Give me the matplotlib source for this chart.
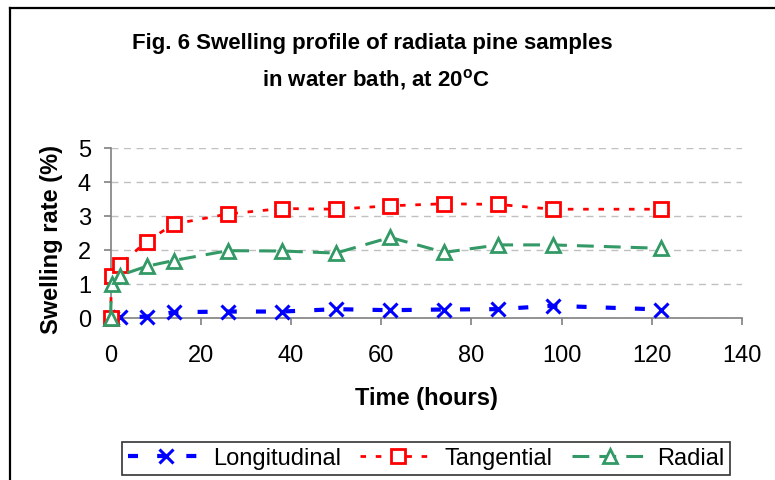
import matplotlib
matplotlib.use("Agg")
import matplotlib.pyplot as plt
from matplotlib.lines import Line2D

plt.rcParams['font.family'] = ['Liberation Sans', 'DejaVu Sans']
plt.rcParams['mathtext.fontset'] = 'custom'
plt.rcParams['mathtext.rm'] = 'Liberation Sans'
plt.rcParams['mathtext.bf'] = 'Liberation Sans:bold'

time_h = [0, 0.25, 2, 8, 14, 26, 38, 50, 62, 74, 86, 98, 122]
longitudinal = [0, 0.0, 0.02, 0.04, 0.17, 0.19, 0.19, 0.26, 0.23, 0.25, 0.26, 0.36, 0.25]
tangential = [0, 1.25, 1.56, 2.25, 2.76, 3.06, 3.22, 3.2, 3.3, 3.36, 3.34, 3.2, 3.2]
radial = [0, 1.0, 1.25, 1.52, 1.69, 1.98, 1.97, 1.91, 2.37, 1.93, 2.15, 2.15, 2.05]
series_names = ["Longitudinal", "Tangential", "Radial"]
x_ticks = [0, 20, 40, 60, 80, 100, 120, 140]
y_ticks = [0, 1, 2, 3, 4, 5]

W, H = 775, 481
fig = plt.figure(figsize=(W / 100, H / 100), dpi=100)
ax = fig.add_axes([110.5 / W, 1 - 319 / H, (742 - 110.5) / W, (319 - 149) / H])

blue, red, green = '#0000FF', '#FF0000', '#339966'
ax.plot(time_h, longitudinal, color=blue, lw=3, dashes=(2.4, 4.6), marker='x',
        ms=10, mew=2.2, label=series_names[0], zorder=3, clip_on=False)
ax.plot(time_h, tangential, color=red, lw=2, dashes=(2, 3.5), marker='s',
        ms=10, mew=2, mfc='white', mec=red, label=series_names[1], zorder=3,
        clip_on=False)
ax.plot(time_h, radial, color=green, lw=2.2, dashes=(5.5, 3.3), marker='^',
        ms=10, mew=2, mfc='white', mec=green, label=series_names[2], zorder=3,
        clip_on=False)

ax.set_xlim(0, 140)
ax.set_ylim(0, 5)
ax.set_xticks(x_ticks)
ax.set_yticks(y_ticks)
ax.yaxis.grid(True, color='#C0C0C0', linestyle=(0, (5, 4)), lw=1)
ax.set_axisbelow(True)
for s in ['top', 'right']:
    ax.spines[s].set_visible(False)
for s in ['left', 'bottom']:
    ax.spines[s].set_color('#808080')
    ax.spines[s].set_linewidth(1.2)
ax.tick_params(axis='both', direction='out', length=5, width=1.2, color='#808080',
               labelsize=17, labelcolor='black')
ax.tick_params(axis='x', pad=14)
ax.tick_params(axis='y', pad=9)

fig.text(52 / W, 1 - 240 / H, "Swelling rate (%)", rotation=90, fontsize=17,
         fontweight='bold', ha='center', va='center')
fig.text(426 / W, 1 - 399 / H, "Time (hours)", fontsize=17, fontweight='bold',
         ha='center', va='center')
fig.text(372 / W, 1 - 43 / H, "Fig. 6 Swelling profile of radiata pine samples",
         fontsize=16, fontweight='bold', ha='center', va='center')
fig.text(376 / W, 1 - 80 / H, r"in water bath, at 20$^{\mathbf{o}}$C",
         fontsize=16, fontweight='bold', ha='center', va='center')

leg = fig.legend(loc='center', bbox_to_anchor=(426 / W, 1 - 459.5 / H), ncol=3,
                 fontsize=17, frameon=True, fancybox=False, edgecolor='black',
                 handlelength=3.2, columnspacing=0.8, handletextpad=0.4,
                 borderpad=0.25)
leg.get_frame().set_linewidth(1.2)

# outer chart-area border (cropped on right/bottom)
fig.add_artist(Line2D([10 / W, 10 / W], [1 - 9 / H, -0.05], transform=fig.transFigure,
                      color='black', lw=1.6))
fig.add_artist(Line2D([10 / W, 1.05], [1 - 9 / H, 1 - 9 / H], transform=fig.transFigure,
                      color='black', lw=1.6))

fig.savefig("out.png", dpi=100)
